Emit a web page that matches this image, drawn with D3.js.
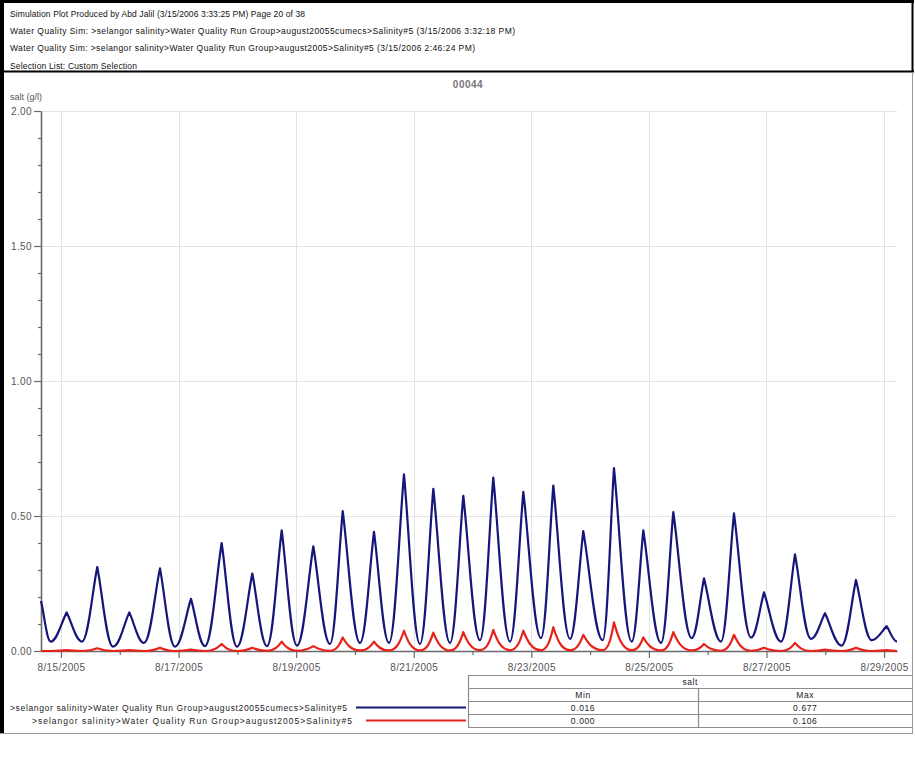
<!DOCTYPE html>
<html>
<head>
<meta charset="utf-8">
<script src="https://cdn.jsdelivr.net/npm/d3@7"></script>
<style>
  html, body { margin: 0; padding: 0; background: #fff; }
  svg { display: block; font-family: "Liberation Sans", Arial, sans-serif; }
</style>
</head>
<body>
<div id="chart"></div>
<script>
// ---- page header ----
const headerLines = [
  "Simulation Plot Produced by Abd Jalil (3/15/2006 3:33:25 PM) Page 20 of 38",
  "Water Quality Sim: >selangor salinity>Water Quality Run Group>august20055cumecs>Salinity#5 (3/15/2006 3:32:18 PM)",
  "Water Quality Sim: >selangor salinity>Water Quality Run Group>august2005>Salinity#5 (3/15/2006 2:46:24 PM)",
  "Selection List: Custom Selection"
];
const headerWidths = [295, 505, 465, 127];

const plotTitle = "00044";
const yAxisLabel = "salt (g/l)";
const yTickValues = [0, 0.5, 1, 1.5, 2];
const xTickLabels = ["8/15/2005", "8/17/2005", "8/19/2005", "8/21/2005",
                     "8/23/2005", "8/25/2005", "8/27/2005", "8/29/2005"];

// ---- series: sample times in days after 8/15/2005 00:00, salt in g/l ----
const sampleDays = [
  -0.340, -0.175, 0.097, 0.357, 0.617, 0.885, 1.162, 1.412, 1.684, 1.939,
   2.211,  2.449, 2.733, 2.994, 3.254, 3.504, 3.754, 4.014, 4.292, 4.576,
   4.792,  5.086, 5.324, 5.579, 5.834, 6.106, 6.333, 6.617, 6.843, 7.127,
   7.353,  7.637, 7.864, 8.165, 8.374, 8.658, 8.884, 9.214, 9.406, 9.707,
   9.905, 10.206, 10.415, 10.728, 10.937, 11.226, 11.447, 11.737, 11.958, 12.247,
  12.485, 12.757, 12.995, 13.279, 13.522, 13.790, 14.045, 14.220
];
const salt5cumecs = [
  0.185, 0.035, 0.143, 0.035, 0.311, 0.016, 0.143, 0.030, 0.306, 0.016,
  0.193, 0.018, 0.400, 0.016, 0.287, 0.018, 0.447, 0.020, 0.388, 0.026,
  0.518, 0.030, 0.441, 0.030, 0.654, 0.026, 0.601, 0.030, 0.575, 0.040,
  0.642, 0.035, 0.589, 0.048, 0.613, 0.045, 0.444, 0.040, 0.677, 0.035,
  0.447, 0.030, 0.514, 0.048, 0.269, 0.035, 0.510, 0.050, 0.217, 0.035,
  0.358, 0.045, 0.140, 0.020, 0.263, 0.040, 0.092, 0.035
];
const saltAug2005 = [
  0.000, 0.000, 0.003, 0.000, 0.010, 0.000, 0.003, 0.000, 0.012, 0.000,
  0.005, 0.000, 0.026, 0.000, 0.012, 0.001, 0.035, 0.001, 0.018, 0.001,
  0.050, 0.002, 0.035, 0.002, 0.075, 0.002, 0.068, 0.002, 0.070, 0.003,
  0.078, 0.003, 0.075, 0.003, 0.088, 0.003, 0.060, 0.003, 0.106, 0.003,
  0.050, 0.002, 0.070, 0.002, 0.026, 0.001, 0.060, 0.001, 0.012, 0.000,
  0.030, 0.000, 0.005, 0.000, 0.012, 0.000, 0.003, 0.000
];

const seriesNames = [
  ">selangor salinity>Water Quality Run Group>august20055cumecs>Salinity#5",
  ">selangor salinity>Water Quality Run Group>august2005>Salinity#5"
];
const seriesColors = ["#16167a", "#e8231c"];
const tableParameter = "salt";
const tableColumns = ["Min", "Max"];

// ---- drawing ----
const W = 915, H = 763;
const svg = d3.select("#chart").append("svg")
  .attr("width", W).attr("height", H)
  .attr("viewBox", `0 0 ${W} ${H}`);

svg.append("rect").attr("width", W).attr("height", H).attr("fill", "#fff");

const dayMs = 864e5;
const t0 = new Date(2005, 7, 15).getTime();
const dates = sampleDays.map(d => new Date(t0 + d * dayMs));
const series = [salt5cumecs, saltAug2005].map((vals, i) => ({
  name: seriesNames[i],
  color: seriesColors[i],
  points: vals.map((v, j) => ({ date: dates[j], value: v }))
}));

const x = d3.scaleTime().domain(d3.extent(dates)).range([41, 897]);
const y = d3.scaleLinear().domain([0, 2]).range([651, 111]);

// page frame
const frameBottom = 733;
svg.append("line").attr("x1", 0).attr("x2", 914).attr("y1", 1.5).attr("y2", 1.5)
  .attr("stroke", "#000").attr("stroke-width", 3);
svg.append("line").attr("x1", 2).attr("x2", 2).attr("y1", 0).attr("y2", frameBottom)
  .attr("stroke", "#000").attr("stroke-width", 4);
svg.append("line").attr("x1", 912.5).attr("x2", 912.5).attr("y1", 0).attr("y2", 72)
  .attr("stroke", "#000").attr("stroke-width", 2);
svg.append("line").attr("x1", 0).attr("x2", 914).attr("y1", 71.5).attr("y2", 71.5)
  .attr("stroke", "#000").attr("stroke-width", 2);
svg.append("line").attr("x1", 912.5).attr("x2", 912.5).attr("y1", 72).attr("y2", frameBottom)
  .attr("stroke", "#9a9a9a").attr("stroke-width", 1);
svg.append("line").attr("x1", 0).attr("x2", 913).attr("y1", frameBottom + 0.5).attr("y2", frameBottom + 0.5)
  .attr("stroke", "#9a9a9a").attr("stroke-width", 1);

// header text
svg.append("g").selectAll("text").data(headerLines).join("text")
  .attr("x", 10)
  .attr("y", (d, i) => 17 + i * 17.2)
  .attr("font-size", 8.5)
  .attr("fill", "#111")
  .attr("textLength", (d, i) => headerWidths[i])
  .attr("lengthAdjust", "spacing")
  .text(d => d);

// chart title and y label
svg.append("text").attr("x", 468).attr("y", 88).attr("text-anchor", "middle")
  .attr("font-size", 10).attr("font-weight", "bold").attr("fill", "#777")
  .attr("letter-spacing", 0.5).text(plotTitle);
svg.append("text").attr("x", 10).attr("y", 100).attr("font-size", 9)
  .attr("fill", "#555").text(yAxisLabel);

// grid
const xTickDates = xTickLabels.map(d3.timeParse("%m/%d/%Y"));
const grid = svg.append("g").attr("stroke", "#e3e3e3").attr("stroke-width", 1);
grid.selectAll("line.v").data(xTickDates).join("line").attr("class", "v")
  .attr("x1", d => Math.round(x(d)) + 0.5).attr("x2", d => Math.round(x(d)) + 0.5)
  .attr("y1", y(2)).attr("y2", y(0));
grid.selectAll("line.h").data(yTickValues.filter(v => v > 0)).join("line").attr("class", "h")
  .attr("x1", x.range()[0]).attr("x2", x.range()[1])
  .attr("y1", d => Math.round(y(d)) + 0.5).attr("y2", d => Math.round(y(d)) + 0.5);

// axes
function styleAxis(g) {
  g.select(".domain").attr("stroke", "#6a6a6a").attr("stroke-width", 1.6);
  g.selectAll(".tick line").attr("stroke", "#6a6a6a").attr("stroke-width", 1.2);
  g.selectAll(".tick text").attr("fill", "#555").attr("font-size", 10)
    .attr("letter-spacing", 0.4)
    .attr("font-family", "'Liberation Sans', Arial, sans-serif");
}

const minorY = d3.range(1, 20).map(i => i / 10).filter(v => !yTickValues.some(t => Math.abs(t - v) < 1e-9));
svg.append("g").attr("transform", "translate(41,0)")
  .call(d3.axisLeft(y).tickValues(minorY).tickSize(3).tickFormat("").tickSizeOuter(0))
  .call(g => g.select(".domain").remove())
  .call(styleAxis);
svg.append("g").attr("transform", "translate(41,0)")
  .call(d3.axisLeft(y).tickValues(yTickValues).tickFormat(d3.format(".2f"))
    .tickSize(7).tickPadding(2).tickSizeOuter(0))
  .call(styleAxis);

const minorX = d3.timeDay.range(new Date(2005, 7, 16), new Date(2005, 7, 29), 2);
svg.append("g").attr("transform", "translate(0,651)")
  .call(d3.axisBottom(x).tickValues(minorX).tickSize(4).tickFormat("").tickSizeOuter(0))
  .call(g => g.select(".domain").remove())
  .call(styleAxis);
svg.append("g").attr("transform", "translate(0,651)")
  .call(d3.axisBottom(x).tickValues(xTickDates).tickFormat(d3.timeFormat("%-m/%-d/%Y"))
    .tickSize(7).tickPadding(6).tickSizeOuter(0))
  .call(styleAxis);

// tidal curve: straight flanks off each crest, flattening into each trough
function tideCurve(ax, ay, bx) {
  return function (context) {
    let pts = [];
    return {
      areaStart() {}, areaEnd() {},
      lineStart() { pts = []; },
      point(px, py) { pts.push([+px, +py]); },
      lineEnd() {
        if (!pts.length) return;
        context.moveTo(pts[0][0], pts[0][1]);
        for (let i = 1; i < pts.length; i++) {
          const [x0, y0] = pts[i - 1], [x1, y1] = pts[i];
          const dx = x1 - x0, dy = y1 - y0;
          if (dy >= 0) {
            context.bezierCurveTo(x0 + ax * dx, y0 + ay * dy, x0 + bx * dx, y1, x1, y1);
          } else {
            context.bezierCurveTo(x1 - bx * dx, y0, x1 - ax * dx, y1 - ay * dy, x1, y1);
          }
        }
      }
    };
  };
}
const curves = [tideCurve(0.33, 0.33, 0.6), tideCurve(0.2, 0.45, 0.45)];

series.forEach((s, i) => {
  svg.append("path")
    .attr("d", d3.line().x(d => x(d.date)).y(d => y(d.value)).curve(curves[i])(s.points))
    .attr("fill", "none")
    .attr("stroke", s.color)
    .attr("stroke-width", 2.2)
    .attr("stroke-linejoin", "round");
});

// summary table
const tx0 = 468, tx1 = 912.5, tDiv = 698;
const rowY = [675, 688, 701, 714, 727];
const tbl = svg.append("g");
const tStroke = "#8c8c8c";
rowY.forEach(ry => tbl.append("line").attr("x1", tx0).attr("x2", tx1)
  .attr("y1", ry + 0.5).attr("y2", ry + 0.5).attr("stroke", tStroke).attr("stroke-width", 1.2));
tbl.append("line").attr("x1", tx0 + 0.5).attr("x2", tx0 + 0.5).attr("y1", rowY[0]).attr("y2", rowY[4])
  .attr("stroke", tStroke).attr("stroke-width", 1.2);
tbl.append("line").attr("x1", tDiv + 0.5).attr("x2", tDiv + 0.5).attr("y1", rowY[1]).attr("y2", rowY[4])
  .attr("stroke", tStroke).attr("stroke-width", 1.2);

const cellText = (cx, cy, t) => tbl.append("text").attr("x", cx).attr("y", cy)
  .attr("text-anchor", "middle").attr("font-size", 8.5).attr("fill", "#222")
  .attr("letter-spacing", 0.6).text(t);
cellText((tx0 + tx1) / 2, rowY[0] + 9.5, tableParameter);
const colCenters = [(tx0 + tDiv) / 2, (tDiv + tx1) / 2];
tableColumns.forEach((c, i) => cellText(colCenters[i], rowY[1] + 9.5, c));

const fmt = d3.format(".3f");
const labelX = [10, 32], labelW = [337, 320], swatchX = [356, 366];
series.forEach((s, i) => {
  const cy = rowY[2 + i] + 9.5;
  cellText(colCenters[0], cy, fmt(d3.min(s.points, d => d.value)));
  cellText(colCenters[1], cy, fmt(d3.max(s.points, d => d.value)));
  tbl.append("text").attr("x", labelX[i]).attr("y", cy).attr("font-size", 8.5)
    .attr("fill", "#222").attr("textLength", labelW[i]).attr("lengthAdjust", "spacing")
    .text(s.name);
  tbl.append("line").attr("x1", swatchX[i]).attr("x2", tx0 - 2)
    .attr("y1", rowY[2 + i] + 6.5).attr("y2", rowY[2 + i] + 6.5)
    .attr("stroke", s.color).attr("stroke-width", 2);
});
</script>
</body>
</html>
